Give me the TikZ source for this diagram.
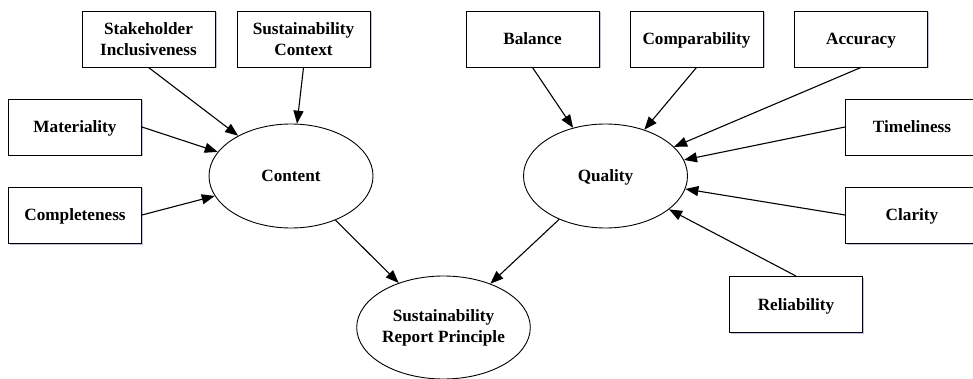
\documentclass[tikz,border=0pt]{standalone}
\usepackage{fontspec}
\setmainfont{Liberation Serif}
\usetikzlibrary{shapes.geometric,arrows.meta,shadows}
\begin{document}
\begin{tikzpicture}[x=1pt,y=-1pt,
  font=\fontsize{17.2}{21}\selectfont\bfseries,
  factor/.style={draw, line width=0.9pt, minimum width=133pt, minimum height=56pt, inner sep=0pt, align=center, fill=white,
    drop shadow={opacity=0.35, shadow xshift=1.5pt, shadow yshift=-1.5pt, fill=blue!40!gray}},
  oneline/.style={text height=12pt, text depth=0pt},
  construct/.style={draw, ellipse, line width=0.9pt, minimum width=164pt, minimum height=104pt, inner sep=0pt, align=center, fill=white},
  link/.style={line width=1.1pt, -{Triangle[length=13pt,width=10pt]}}]
\useasboundingbox (0,0) rectangle (973,379);
% boxes
\node[factor] (stake) at (148.5,39) {Stakeholder\\Inclusiveness};
\node[factor] (sctx) at (303.5,39) {Sustainability\\Context};
\node[factor, oneline] (mat) at (75,127) {Materiality};
\node[factor, oneline] (comp) at (75,215) {Completeness};
\node[factor, oneline] (bal) at (532.5,39) {Balance};
\node[factor, oneline] (cmpb) at (696.5,39) {Comparability};
\node[factor, oneline] (acc) at (861,39) {Accuracy};
\node[factor, oneline] (time) at (912,127) {Timeliness};
\node[factor, oneline] (clar) at (912,215) {Clarity};
\node[factor, oneline] (rel) at (796,304.5) {Reliability};
% ellipses
\node[construct, oneline] (content) at (291,176) {Content};
\node[construct, oneline] (quality) at (605.5,176) {Quality};
\node[construct, minimum width=163pt, minimum height=103pt] (srp) at (443.5,327.5) {Sustainability\\Report Principle};
% connectors
\draw[link] (stake.south) -- (content);
\draw[link] (sctx.south) -- (content);
\draw[link] (mat.east) -- (content);
\draw[link] (comp.east) -- (content);
\draw[link] (content) -- (srp);
\draw[link] (quality) -- (srp);
\draw[link] (bal.south) -- (quality);
\draw[link] (cmpb.south) -- (quality);
\draw[link] (acc.south) -- (quality);
\draw[link] (time.west) -- (quality);
\draw[link] (clar.west) -- (quality);
\draw[link] (rel.north) -- (quality);
\end{tikzpicture}
\end{document}
